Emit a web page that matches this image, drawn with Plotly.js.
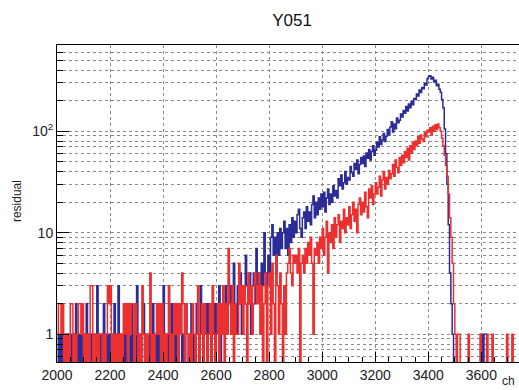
<!DOCTYPE html>
<html><head><meta charset="utf-8">
<script src="https://cdn.plot.ly/plotly-3.0.1.min.js"></script>
<style>html,body{margin:0;padding:0;overflow:hidden;background:#fff;width:519px;height:390px}</style>
</head><body><div id="chart" style="width:560px;height:390px"></div>
<script>
const binStart = 2000;
const binWidth = 5;
const blueCounts = [
0,1,0,1,0,1,1,0,1,0, 1,0,1,0,2,0,1,0,1,0, 1,0,2,1,0,1,0,1,0,1, 3,1,0,1,0,2,0,1,0,1,
0,1,0,2,0,1,3,1,0,1, 0,1,0,1,1,0,2,0,1,0, 3,0,1,0,1,2,0,1,0,1, 0,1,2,0,1,0,1,0,2,1,
3,1,0,1,0,1,2,0,1,0, 1,0,1,2,0,1,0,2,1,0, 1,2,0,1,0,2,1,0,3,1, 0,1,2,0,2,1,0,1,2,0,
2,1,3,0,2,1,2,3,1,2, 2,3,1,5,2,1,3,2,4,1, 3,2,6,3,2,4,1,3,4,2, 7,3,4,2,5,3,10,4,3,6,
4,9,12,6,9,4,10,6,11,7, 10,13,7,11,6,12,8,14,9,13, 10,15,17,11,9,14,16,11,18,13, 16,12,19,23,14,20,15,22,17,24,
18,25,16,22,27,19,24,20,29,23, 26,22,34,29,37,27,31,40,30,35, 33,45,39,36,48,42,52,38,47,55, 48,57,45,61,54,66,52,63,72,58,
65,78,70,88,74,82,95,79,89,104, 92,110,124,98,118,106,135,121,128,148, 138,160,150,175,158,185,170,196,182,210, 205,232,222,255,240,270,262,295,285,328,
345,352,326,340,305,318,280,290,259,242, 205,170,105,60,30,12,4,2,1,0,
0,0,0,0,0,0,0,0,0,0, 0,0,0,0,0,0,0,0,0,0, 1,0,1,1,0,0,0,0,0,0, 0,0,0,0,0,0,0,0,0,0, 0,0,0,0,0,0,0,0,0,0
];
const redCounts = [
1,2,2,1,2,0,1,0,1,0, 2,2,0,1,0,1,2,2,1,2, 0,1,0,1,0,3,3,0,1,0, 1,0,1,1,0,1,0,1,3,2,
3,0,1,0,1,0,1,0,1,0, 2,1,2,0,2,1,2,2,0,2, 1,0,1,0,3,1,0,1,0,1, 4,0,1,0,1,2,1,2,0,2,
0,1,0,1,3,0,1,0,2,1, 2,0,2,1,4,2,0,2,1,0, 1,0,2,1,0,1,3,0,1,2, 0,2,1,0,1,2,0,3,1,0,
1,2,0,2,1,3,0,2,1,7, 2,1,3,0,2,1,1,5,2,3, 1,3,2,0,4,2,3,1,2,4, 3,2,4,1,3,0,2,4,0,3,
4,1,5,2,0,6,3,1,4,2, 0,3,1,4,5,7,4,3,6,5, 6,4,7,0,5,6,4,7,5,8, 6,9,5,1,7,6,8,5,9,7,
11,6,9,13,4,10,8,12,7,14, 9,12,15,8,13,11,17,10,14,12, 18,11,15,20,13,17,10,19,22,15, 20,16,25,18,14,27,22,29,19,24,
31,24,28,36,23,33,40,27,35,30, 41,34,38,47,36,52,44,39,55,46, 58,49,63,55,68,52,72,61,78,66, 80,72,88,76,92,84,79,97,88,102,
98,108,92,112,100,116,104,118,108,100, 85,72,58,46,36,24,14,9,5,2,
1,0,1,1,0,0,0,0,0,0, 1,0,0,0,0,0,0,0,0,1, 0,0,0,0,1,0,0,0,1,0, 0,0,0,0,0,0,0,0,0,1, 0,0,0,1,0,0,0,0,0,0
];
const xTickVals = [2000,2200,2400,2600,2800,3000,3200,3400,3600];
const xTickText = ['2000','2200','2400','2600','2800','3000','3200','3400','3600'];
const yTickVals = [1,10,100];
const yTickText = ['1','10','10<sup>2</sup>'];
const yMinorVals = [0.6,0.7,0.8,0.9,2,3,4,5,6,7,8,9,20,30,40,50,60,70,80,90,200,300,400,500,600,700];

const edges = blueCounts.map((_, i) => binStart + i * binWidth);
const shown = v => v > 0 ? v : 0.1;

const traces = [
  {x: edges, y: blueCounts.map(shown), type: 'scatter', mode: 'lines',
   line: {shape: 'hv', color: '#2b2c98', width: 1.5}, hoverinfo: 'skip'},
  {x: edges, y: redCounts.map(shown), type: 'scatter', mode: 'lines',
   line: {shape: 'hv', color: '#ec3030', width: 1.5}, hoverinfo: 'skip'}
];

const font = {family: 'Liberation Sans, Arial, sans-serif', size: 14, color: '#222'};
const layout = {
  width: 560, height: 390,
  margin: {l: 57, r: 15, t: 45, b: 28},
  paper_bgcolor: '#fff', plot_bgcolor: '#fff',
  showlegend: false,
  title: {text: 'Y051', font: {family: 'Liberation Sans, Arial, sans-serif', size: 17, color: '#111'},
          xref: 'container', x: 292/560, xanchor: 'center', yref: 'container', y: 1 - 20/390, yanchor: 'middle'},
  xaxis: {range: [2000, 3840], tickmode: 'array', tickvals: xTickVals, ticktext: xTickText,
          ticks: 'inside', ticklen: 10, tickcolor: '#000', tickfont: font,
          showgrid: true, gridcolor: '#8a8a8a', griddash: 'dot', gridwidth: 1,
          showline: true, linecolor: '#000', linewidth: 1, mirror: true, zeroline: false,
          minor: {tick0: 2000, dtick: 50, ticks: 'inside', ticklen: 5, tickcolor: '#000', showgrid: false}},
  yaxis: {type: 'log', range: [Math.log10(0.532), Math.log10(707)], tickmode: 'array',
          tickvals: yTickVals, ticktext: yTickText,
          ticks: 'inside', ticklen: 12, tickcolor: '#000', tickfont: font,
          showgrid: true, gridcolor: '#8a8a8a', griddash: 'dot', gridwidth: 1,
          showline: true, linecolor: '#000', linewidth: 1, mirror: true, zeroline: false,
          minor: {tickmode: 'array', tickvals: yMinorVals, ticks: 'inside', ticklen: 6, tickcolor: '#000',
                  showgrid: true, gridcolor: '#8a8a8a', griddash: 'dot', gridwidth: 1}},
  annotations: [
    {text: 'residual', xref: 'paper', yref: 'paper', x: (16.5 - 57) / 488, y: 0.506,
     textangle: -90, showarrow: false, xanchor: 'center', yanchor: 'middle',
     font: {family: 'Liberation Sans, Arial, sans-serif', size: 12, color: '#222'}},
    {text: 'ch', xref: 'paper', yref: 'paper', x: (516 - 57) / 488, y: (362 - 381) / 317,
     showarrow: false, xanchor: 'right', yanchor: 'middle', borderpad: 0,
     font: {family: 'Liberation Sans, Arial, sans-serif', size: 12, color: '#222'}}
  ]
};
Plotly.newPlot('chart', traces, layout, {staticPlot: true, displayModeBar: false});
</script></body></html>
